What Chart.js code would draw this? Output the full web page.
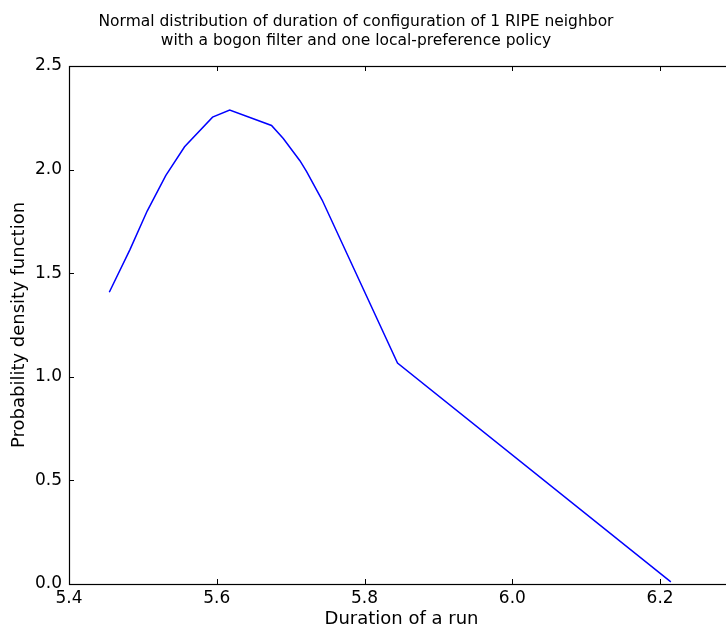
<!DOCTYPE html>
<html>
<head>
<meta charset="utf-8">
<script src="https://cdn.jsdelivr.net/npm/chart.js@4.4.1/dist/chart.umd.min.js"></script>
<style>
  html, body { margin: 0; padding: 0; background: #fff; overflow: hidden; }
  #wrap { position: relative; width: 726px; height: 628px; overflow: hidden; }
  #box { position: absolute; left: 0; top: 0; width: 737px; height: 628px; }
  #title {
    position: absolute; left: 0; width: 712px; top: 12px;
    text-align: center; font: 15.5px "DejaVu Sans", sans-serif; line-height: 18.7px;
    color: #000; white-space: nowrap;
  }
</style>
</head>
<body>
<div id="wrap">
  <div id="box"><canvas id="pdfChart"></canvas></div>
  <div id="title">Normal distribution of duration of configuration of 1 RIPE neighbor<br>with a bogon filter and one local-preference policy</div>
</div>
<script>
// sorted run durations and the normal pdf value at each of them
const durations = [5.4545, 5.4825, 5.5058, 5.5309, 5.5564, 5.5943, 5.6175,
                   5.6741, 5.6900, 5.7125, 5.7216, 5.7426, 5.8446, 6.2145];
const pdfValues = [1.408, 1.614, 1.800, 1.971, 2.110, 2.253, 2.287,
                   2.213, 2.150, 2.043, 1.990, 1.853, 1.066, 0.010];
const xTicks = [5.4, 5.6, 5.8, 6.0, 6.2];
const yTicks = [0.0, 0.5, 1.0, 1.5, 2.0, 2.5];

const FONT = '"DejaVu Sans", sans-serif';

// matplotlib style frame with inward ticks on every side
const frameTicks = {
  id: 'frameTicks',
  afterDatasetsDraw(chart) {
    const { ctx, chartArea: a, scales: { x, y } } = chart;
    ctx.save();
    ctx.strokeStyle = '#000';
    ctx.lineWidth = 1;
    ctx.beginPath();
    xTicks.forEach(v => {
      const px = Math.round(x.getPixelForValue(v)) + 0.5;
      ctx.moveTo(px, a.bottom); ctx.lineTo(px, a.bottom - 5);
      ctx.moveTo(px, a.top); ctx.lineTo(px, a.top + 5);
    });
    yTicks.forEach(v => {
      const py = Math.round(y.getPixelForValue(v)) + 0.5;
      ctx.moveTo(a.left, py); ctx.lineTo(a.left + 5, py);
      ctx.moveTo(a.right, py); ctx.lineTo(a.right - 5, py);
    });
    ctx.stroke();
    ctx.lineWidth = 1.2;
    ctx.strokeRect(Math.round(a.left) + 0.5, Math.round(a.top) + 0.5,
                   Math.round(a.right - a.left), Math.round(a.bottom - a.top));
    ctx.restore();
  }
};

new Chart(document.getElementById('pdfChart'), {
  type: 'line',
  data: {
    datasets: [{
      data: durations.map((d, i) => ({ x: d, y: pdfValues[i] })),
      borderColor: '#0000ff',
      borderWidth: 1.5,
      pointRadius: 0,
      fill: false,
      tension: 0
    }]
  },
  options: {
    responsive: true,
    maintainAspectRatio: false,
    animation: false,
    layout: { padding: { left: 0, right: 3, top: 66, bottom: 0 } },
    plugins: { legend: { display: false }, tooltip: { enabled: false } },
    scales: {
      x: {
        type: 'linear',
        min: 5.4, max: 6.3,
        grid: { display: false, drawTicks: false, tickLength: 0 },
        border: { display: false },
        afterFit(s) { s.height = 44; },
        afterBuildTicks(s) { s.ticks = xTicks.map(v => ({ value: v })); },
        ticks: {
          padding: 4,
          color: '#000',
          font: { family: FONT, size: 17 },
          callback: v => v.toFixed(1)
        },
        title: {
          display: true,
          text: 'Duration of a run',
          color: '#000',
          font: { family: FONT, size: 18, lineHeight: 1.0 },
          padding: { top: 0, bottom: 0 }
        }
      },
      y: {
        min: 0, max: 2.5,
        grid: { display: false, drawTicks: false, tickLength: 0 },
        border: { display: false },
        afterFit(s) { s.width = 69; },
        afterBuildTicks(s) { s.ticks = yTicks.map(v => ({ value: v })); },
        ticks: {
          padding: 7,
          color: '#000',
          font: { family: FONT, size: 17 },
          callback: v => v.toFixed(1)
        },
        title: {
          display: true,
          text: 'Probability density function',
          color: '#000',
          font: { family: FONT, size: 18 },
          padding: { top: 9, bottom: 0 }
        }
      }
    }
  },
  plugins: [frameTicks]
});
</script>
</body>
</html>
